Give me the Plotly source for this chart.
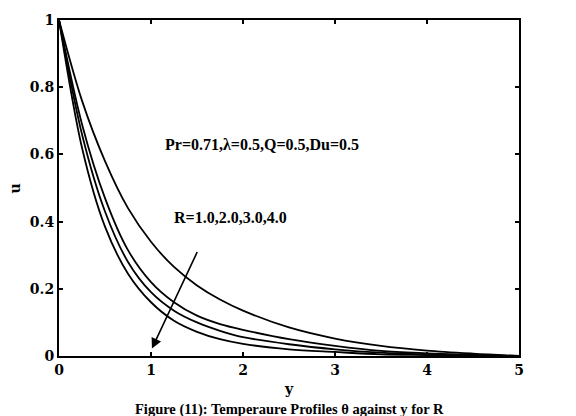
import plotly.graph_objects as go

y_grid = [0, 0.25, 0.5, 0.75, 1.0, 1.25, 1.5, 1.75, 2.0, 2.5, 3.0, 3.5, 4.0, 4.5, 5.0]
theta_R4 = [1.0, 0.62, 0.385, 0.245, 0.16, 0.105, 0.072, 0.05, 0.036, 0.02, 0.012, 0.005, 0.003, 0.001, 0.0]
theta_R3 = [1.0, 0.66, 0.43, 0.28, 0.19, 0.135, 0.10, 0.075, 0.056, 0.035, 0.02, 0.01, 0.005, 0.002, 0.0]
theta_R2 = [1.0, 0.69, 0.47, 0.315, 0.22, 0.16, 0.12, 0.095, 0.078, 0.05, 0.03, 0.015, 0.008, 0.003, 0.0]
theta_R1 = [1.0, 0.76, 0.58, 0.44, 0.34, 0.265, 0.21, 0.168, 0.135, 0.085, 0.052, 0.03, 0.016, 0.007, 0.0]

x_ticks = [0, 1, 2, 3, 4, 5]
y_ticks = [0, 0.2, 0.4, 0.6, 0.8, 1]
y_tick_labels = ["0", "0.2", "0.4", "0.6", "0.8", "1"]

FONT = "Liberation Serif"
TICKFONT = "DejaVu Serif"

fig = go.Figure()
for name, vals in [("R=1.0", theta_R1), ("R=2.0", theta_R2), ("R=3.0", theta_R3), ("R=4.0", theta_R4)]:
    fig.add_trace(go.Scatter(x=y_grid, y=vals, mode="lines", name=name,
                             line=dict(color="black", width=1.8, shape="spline", smoothing=0.9),
                             showlegend=False))

axis_common = dict(showline=True, linecolor="black", linewidth=2, mirror="ticks",
                   ticks="inside", ticklen=4, tickwidth=1.5, tickcolor="black",
                   showgrid=False, zeroline=False,
                   tickfont=dict(family=TICKFONT, size=14, color="black", weight="bold"))

fig.update_layout(
    width=576, height=416,
    margin=dict(l=59, r=57, t=15, b=60),
    paper_bgcolor="white", plot_bgcolor="white",
    font=dict(family=FONT, size=16, color="black", weight="bold"),
    xaxis=dict(range=[0, 5], tickvals=x_ticks, **axis_common),
    yaxis=dict(range=[0, 1], tickvals=y_ticks, ticktext=y_tick_labels, **axis_common),
)

fig.add_annotation(x=1.134, y=0.628, xref="x", yref="y", text="Pr=0.71,λ=0.5,Q=0.5,Du=0.5",
                   showarrow=False, xanchor="left", yanchor="middle",
                   font=dict(family=FONT, size=16, color="black", weight="bold"))
fig.add_annotation(x=1.225, y=0.4135, xref="x", yref="y", text="R=1.0,2.0,3.0,4.0",
                   showarrow=False, xanchor="left", yanchor="middle",
                   font=dict(family=FONT, size=16, color="black", weight="bold"))
# arrow
fig.add_annotation(x=1.01, y=0.022, ax=1.51, ay=0.314, xref="x", yref="y", axref="x", ayref="y",
                   text="", showarrow=True, arrowhead=2, arrowsize=1.3, arrowwidth=1.6,
                   arrowcolor="black")
# axis titles and caption
fig.add_annotation(x=0.5, y=0, xref="paper", yref="paper", text="y", showarrow=False,
                   yanchor="middle", yshift=-33,
                   font=dict(family=TICKFONT, size=14, color="black", weight="bold"))
fig.add_annotation(x=0.5, y=0, xref="paper", yref="paper",
                   text="Figure (11): Temperaure Profiles θ against y for R", showarrow=False,
                   yanchor="middle", yshift=-53,
                   font=dict(family=FONT, size=14.5, color="black", weight="bold"))
fig.add_annotation(x=-0.0978, y=0.4985, xref="paper", yref="paper", text="u", showarrow=False,
                   textangle=-90, xanchor="center", yanchor="middle",
                   font=dict(family=TICKFONT, size=14, color="black", weight="bold"))

fig.write_html("out.html")
